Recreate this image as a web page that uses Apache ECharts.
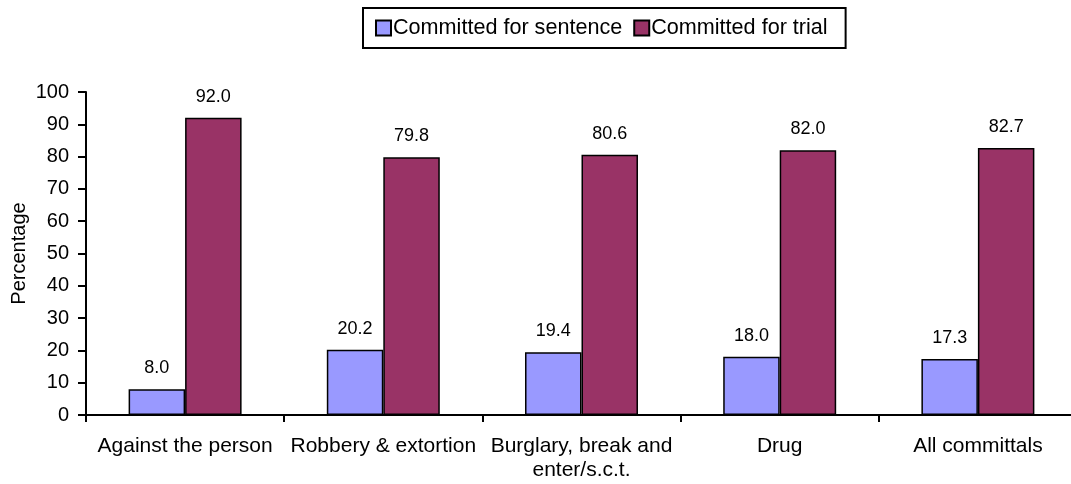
<!DOCTYPE html>
<html>
<head>
<meta charset="utf-8">
<script src="https://cdn.jsdelivr.net/npm/echarts@6/dist/echarts.min.js"></script>
<style>
  html, body { margin: 0; padding: 0; background: #fff; }
  #chart { width: 1071px; height: 484px; }
</style>
</head>
<body>
<div id="chart"></div>
<script>
// Offence categories along the x axis
const categories = [
  'Against the person',
  'Robbery & extortion',
  'Burglary, break and\nenter/s.c.t.',
  'Drug',
  'All committals'
];
// Percentage of committals by type
const sentenceValues = [8.0, 20.2, 19.4, 18.0, 17.3];
const trialValues = [92.0, 79.8, 80.6, 82.0, 82.7];
const seriesNames = ['Committed for sentence', 'Committed for trial'];

const FONT = 'Liberation Sans, Arial, sans-serif';

const chart = echarts.init(document.getElementById('chart'), null, { renderer: 'canvas' });

function barSeries(name, values, color) {
  return {
    name: name,
    type: 'bar',
    data: values,
    barGap: '0%',
    barCategoryGap: '43%',
    itemStyle: { color: color, borderColor: '#000', borderWidth: 1.5 },
    label: {
      show: true,
      position: 'top',
      distance: 12,
      formatter: p => p.value.toFixed(1),
      color: '#000',
      fontFamily: FONT,
      fontSize: 18
    },
    emphasis: { disabled: true }
  };
}

chart.setOption({
  animation: false,
  backgroundColor: '#fff',
  legend: {
    data: seriesNames,
    left: 363,
    top: 8,
    padding: [9, 18, 9, 12],
    borderColor: '#000',
    borderWidth: 2,
    icon: 'rect',
    itemWidth: 15,
    itemHeight: 15,
    itemGap: 11,
    textStyle: { fontFamily: FONT, fontSize: 21.6, color: '#000', padding: [0, 0, 0, -3] }
  },
  grid: {
    left: 86, top: 92, width: 991, bottom: 69,
    containLabel: false,
    outerBoundsMode: 'none'
  },
  xAxis: {
    type: 'category',
    data: categories,
    axisLine: { lineStyle: { color: '#000', width: 2 } },
    axisTick: { show: true, length: 7, lineStyle: { color: '#000', width: 2 } },
    axisLabel: {
      color: '#000',
      fontFamily: FONT,
      fontSize: 21,
      margin: 19,
      lineHeight: 24,
      interval: 0
    },
    splitLine: { show: false }
  },
  yAxis: {
    type: 'value',
    min: 0,
    max: 100,
    interval: 10,
    name: 'Percentage',
    nameLocation: 'middle',
    nameGap: 57,
    nameMoveOverlap: false,
    nameTextStyle: { fontFamily: FONT, fontSize: 20, color: '#000' },
    axisLine: { show: true, lineStyle: { color: '#000', width: 2 } },
    axisTick: { show: true, length: 8, lineStyle: { color: '#000', width: 2 } },
    axisLabel: { color: '#000', fontFamily: FONT, fontSize: 20, margin: 17 },
    splitLine: { show: false }
  },
  series: [
    barSeries(seriesNames[0], sentenceValues, '#9999FF'),
    barSeries(seriesNames[1], trialValues, '#993366')
  ]
});
</script>
</body>
</html>
